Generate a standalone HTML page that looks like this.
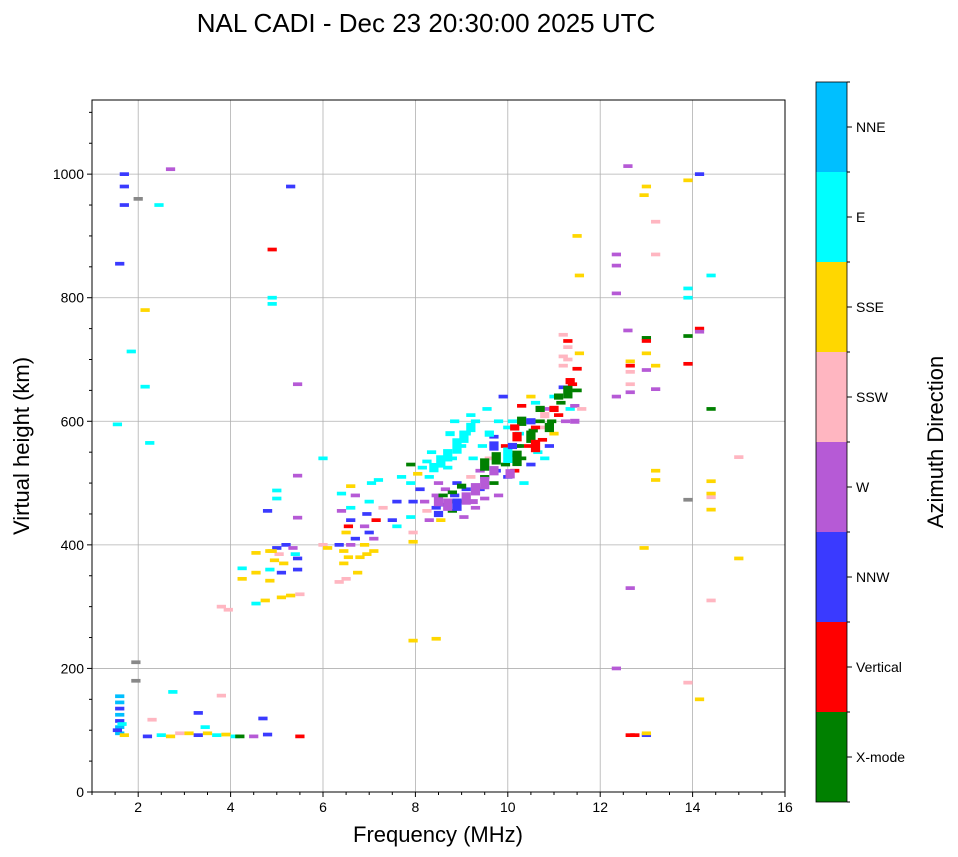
<!DOCTYPE html>
<html><head><meta charset="utf-8">
<style>
html,body{margin:0;padding:0;background:#fff;}
svg{display:block;font-family:"Liberation Sans","DejaVu Sans",sans-serif;}
</style></head>
<body>
<svg id="chart" width="958" height="857" viewBox="0 0 958 857" xmlns="http://www.w3.org/2000/svg">
<text x="426" y="32" font-size="26" text-anchor="middle">NAL CADI - Dec 23 20:30:00 2025 UTC</text>
<g id="grid"></g>
<g id="marks"></g>
<rect x="92" y="100" width="693" height="692" fill="none" stroke="#000" stroke-width="1"/>
<g id="axes"></g>
<text x="438" y="842" font-size="22" text-anchor="middle">Frequency (MHz)</text>
<text transform="translate(29,446) rotate(-90)" font-size="22" text-anchor="middle">Virtual height (km)</text>
<g id="cbar"></g>
<text transform="translate(943,442) rotate(-90)" font-size="22" text-anchor="middle">Azimuth Direction</text>
</svg>
<script>
const categories = ["X-mode","Vertical","NNW","W","SSW","SSE","E","NNE"];
const catColors = ["#008000","#ff0000","#3a3aff","#b65ad6","#ffb6c1","#ffd700","#00ffff","#00bfff","#888888"];
const xTicks = [2,4,6,8,10,12,14,16];
const yTicks = [0,200,400,600,800,1000];
// echo marks: frequency (MHz), height (km), category index (8 = unclassified), optional vertical extent (km)
const freqs = [];
const heights = [];
const cats = [];
const spans = [];
const raw = [
[1.6,95,7],[1.6,105,7],[1.6,115,2],[1.6,125,7],[1.6,135,2],[1.6,145,7],[1.6,155,7],[1.55,100,2],[1.7,92,5],[1.65,110,6],
[2.2,90,2],[2.5,92,6],[2.7,90,5],[2.9,95,4],[3.1,95,5],[3.3,92,2],[3.5,95,5],[3.7,92,6],[3.9,93,5],[4.1,90,6],[4.2,90,0],[4.5,90,3],[4.8,93,2],[5.5,90,1],
[3.3,128,2],[3.45,105,6],[2.3,117,4],[3.8,156,4],[4.7,119,2],[2.75,162,6],
[1.7,1000,2],[1.7,980,2],[1.7,950,2],[1.6,855,2],[1.85,713,6],[2.0,960,8],[2.15,780,5],[2.15,656,6],[2.25,565,6],[1.55,595,6],[2.45,950,6],[2.7,1008,3],
[5.3,980,2],[4.9,878,1],[4.9,800,6],[4.9,790,6],[5.45,660,3],[6.0,540,6],[5.45,512,3],[5.0,488,6],[5.0,475,6],[4.8,455,2],[5.45,444,3],
[11.5,900,5],[11.55,836,5],[12.6,1013,3],[12.35,870,3],[12.35,852,3],[12.35,807,3],[13.0,980,5],[12.95,966,5],[13.2,923,4],[13.2,870,4],
[12.6,747,3],[12.65,697,5],[12.65,690,1],[12.65,680,4],[12.65,660,4],[12.65,647,3],[12.35,640,3],[13.0,735,0],[13.0,730,1],[13.0,710,5],[13.0,683,3],
[13.2,690,5],[13.2,652,3],[13.2,520,5],[13.2,505,5],[12.95,395,5],[12.65,330,3],[12.35,200,3],[12.65,92,1],[12.75,92,1],[13.0,92,2],[13.0,95,5],
[13.9,990,5],[14.15,1000,2],[13.9,815,6],[13.9,800,6],[14.4,836,6],[14.15,750,1],[14.15,745,3],[13.9,738,0],[13.9,693,1],[14.4,620,0],
[14.4,503,5],[14.4,483,5],[14.4,477,4],[14.4,457,5],[13.9,473,8],[14.4,310,4],[13.9,177,4],[14.15,150,5],[15.0,542,4],[15.0,378,5],
[3.8,300,4],[3.95,295,4],[4.25,345,5],[4.25,362,6],[4.55,305,6],[4.55,355,5],[4.55,387,5],[4.75,310,5],[4.85,342,5],[4.85,360,6],[4.85,390,5],
[4.95,375,5],[5.0,395,2],[5.05,385,4],[5.1,355,2],[5.15,370,5],[5.2,400,2],[5.3,318,5],[5.35,395,3],[5.45,360,2],[5.45,378,2],[5.5,320,4],[5.1,315,5],[4.9,390,5],[5.4,385,6],
[6.0,400,4],[6.1,395,5],[6.35,340,4],[6.35,400,2],[6.45,390,5],[6.45,370,5],[6.5,345,4],[6.5,420,5],[6.55,430,1],[6.6,400,3],[6.6,440,2],[6.7,410,2],
[6.7,480,3],[6.6,495,5],[6.6,460,6],[6.75,355,5],[6.8,380,5],[6.9,430,3],[6.95,450,2],[7.0,420,2],[7.0,470,6],[7.05,500,6],[7.1,390,5],[7.1,410,3],
[7.15,440,1],[7.2,505,6],[7.3,460,4],[7.5,440,2],[7.6,430,6],[7.6,470,2],[7.7,510,6],[6.4,483,6],[6.4,455,3],[6.55,380,5],[6.9,400,5],[6.95,385,5],
[7.9,530,0],[7.9,500,6],[7.95,470,2],[7.9,445,6],[7.95,420,4],[7.95,405,5],[8.05,515,5],[8.1,490,2],[8.15,525,6],[8.25,535,6],[8.3,510,6],[8.35,550,6],
[8.2,470,3],[8.25,455,4],[8.3,440,3],[8.45,480,3],[8.45,460,2],[8.5,500,3],[8.55,440,5],[8.6,465,2],[8.65,490,3],[8.7,525,6],[8.75,470,0],[8.8,455,0],
[8.8,540,6],[8.85,480,2],[8.9,500,2],[9.0,560,6],[9.0,470,0],[9.05,445,3],[9.1,490,2],[9.1,580,6],[9.2,510,4],[9.2,470,2],[9.25,540,6],[9.3,460,3],
[9.3,600,6],[9.4,490,2],[9.4,520,3],[9.45,560,6],[9.5,510,0],[9.5,475,3],[9.55,620,6],[9.6,540,4],[9.7,500,0],[9.7,575,2],[9.75,520,2],[9.8,600,6],[9.8,480,3],
[9.9,640,2],[9.95,560,1],[9.95,530,0],[10.0,510,2],[10.0,590,6],[10.05,545,0],[10.1,600,6],[10.15,520,1],[10.2,560,2],[10.25,580,6],[10.3,540,0],
[10.3,625,1],[10.35,500,6],[10.4,600,3],[10.45,560,1],[10.5,530,2],[10.55,585,0],[10.6,630,6],[10.65,550,6],[10.7,600,0],[10.75,570,1],[10.8,590,4],
[10.85,620,3],[10.9,560,2],[10.95,600,0],[11.0,640,6],[11.0,580,5],[11.1,610,1],[11.15,630,0],[11.2,655,2],[11.25,600,3],[11.3,640,0],[11.35,620,6],
[11.4,660,1],[11.45,625,3],[11.5,650,0],[11.5,685,1],[11.55,710,5],[11.2,740,4],[11.2,705,4],[11.3,730,1],[11.3,720,4],[11.6,620,4],[10.5,640,5],
[10.25,560,0],[10.6,590,1],[10.8,540,6],[1.95,180,8],[1.95,210,8],[7.95,245,5],[8.45,248,5],
[8.55,535,6,20],[8.7,545,6,20],[8.9,560,6,25],[9.05,575,6,20],[9.2,590,6,15],[8.4,525,6,15],[8.75,580,6,8],[9.2,610,6,6],[8.85,600,6,6],
[8.5,470,3,15],[8.7,465,3,20],[8.9,465,2,20],[9.1,475,3,20],[9.3,490,3,20],[8.5,450,2,10],[8.8,485,0,6],[8.6,480,0,6],[9.0,495,0,8],[9.25,470,3,8],
[9.5,500,3,20],[9.5,530,0,20],[9.7,520,3,15],[9.7,560,2,15],[9.75,540,0,20],[9.6,580,6,10],
[10.0,545,6,25],[10.05,515,3,15],[10.2,540,0,25],[10.2,575,1,15],[10.1,560,2,10],[10.3,600,0,15],[10.15,590,1,10],
[10.5,575,0,20],[10.6,560,1,20],[10.5,600,2,10],[10.7,620,0,10],[10.8,610,4,10],[10.9,590,0,15],[11.0,620,1,10],[11.1,640,0,10],[11.3,650,0,15],
[11.35,665,1,10],[11.45,600,3,8],[11.2,690,4,6],[11.3,700,4,6]
];
raw.forEach(r=>{freqs.push(r[0]);heights.push(r[1]);cats.push(r[2]);spans.push(r[3]||6);});

const NS="http://www.w3.org/2000/svg";
const X0=92,X1=785,Y0=792,Y1=100,FMIN=1,FMAX=16,HMIN=0,HMAX=1120;
const xs=f=>X0+(f-FMIN)/(FMAX-FMIN)*(X1-X0);
const ys=h=>Y0-(h-HMIN)/(HMAX-HMIN)*(Y0-Y1);
function mk(tag,attrs,parent){const e=document.createElementNS(NS,tag);for(const k in attrs)e.setAttribute(k,attrs[k]);parent.appendChild(e);return e;}
const grid=document.getElementById('grid'),axes=document.getElementById('axes'),marks=document.getElementById('marks'),cbar=document.getElementById('cbar');

xTicks.forEach(t=>{
  const x=xs(t);
  if(t<FMAX){const g=mk('line',{x1:x,x2:x,y1:Y1,y2:Y0,stroke:'#b0b0b0','stroke-width':0.8},grid);
  
  }
  const tk=mk('line',{x1:x,x2:x,y1:Y0,y2:Y0+5,stroke:'#000'},axes);
  
  
  const lb=mk('text',{x:x,y:Y0+20,'font-size':14,'text-anchor':'middle'},axes);lb.textContent=t;
  
  
});
for(let f=1;f<=16;f+=0.5){if(f%2===0)continue;const x=xs(f);const m=mk('line',{x1:x,x2:x,y1:Y0,y2:Y0+3,stroke:'#000'},axes);
  
  }
yTicks.forEach(t=>{
  const y=ys(t);
  if(t>0){const g=mk('line',{x1:X0,x2:X1,y1:y,y2:y,stroke:'#b0b0b0','stroke-width':0.8},grid);
  
  }
  const tk=mk('line',{x1:X0-5,x2:X0,y1:y,y2:y,stroke:'#000'},axes);
  
  
  const lb=mk('text',{x:X0-8,y:y+5,'font-size':14,'text-anchor':'end'},axes);lb.textContent=t;
  
  
});
for(let h=50;h<HMAX;h+=50){if(h%200===0)continue;const y=ys(h);const m=mk('line',{x1:X0-3,x2:X0,y1:y,y2:y,stroke:'#000'},axes);
  
  }

for(let i=0;i<freqs.length;i++){
  const w=xs(freqs[i]+0.1)-xs(freqs[i]-0.1);
  const h=ys(0)-ys(spans[i]);
  const r=mk('rect',{x:xs(freqs[i])-w/2,y:ys(heights[i])-h/2,width:w,height:h,fill:catColors[cats[i]]},marks);
  
  
}

const CB_X=816,CB_W=31,CB_TOP=82,CB_BOT=802;
const seg=(CB_BOT-CB_TOP)/categories.length;
categories.forEach((c,i)=>{
  const y=CB_BOT-(i+1)*seg;
  const r=mk('rect',{x:CB_X,y:y,width:CB_W,height:seg,fill:catColors[i]},cbar);
  
  
  const tk=mk('line',{x1:CB_X+CB_W,x2:CB_X+CB_W+5,y1:y+seg/2,y2:y+seg/2,stroke:'#000'},cbar);
  
  
  const lb=mk('text',{x:CB_X+CB_W+9,y:y+seg/2+5,'font-size':14},cbar);lb.textContent=c;
  
  
});
for(let i=0;i<=categories.length;i++){const y=CB_BOT-i*seg;const m=mk('line',{x1:CB_X+CB_W,x2:CB_X+CB_W+3,y1:y,y2:y,stroke:'#000'},cbar);
  
  }
const fr=mk('rect',{x:CB_X,y:CB_TOP,width:CB_W,height:CB_BOT-CB_TOP,fill:'none',stroke:'#000','stroke-width':0.8},cbar);


</script>
</body></html>
